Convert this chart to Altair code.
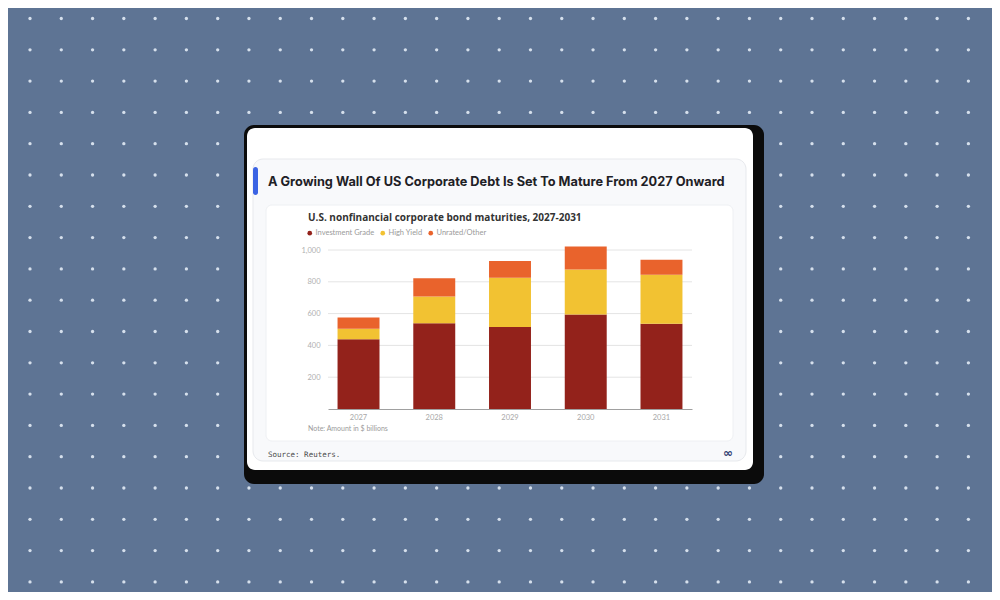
import altair as alt
import pandas as pd
import numpy as np

# ---- data ----
years = ["2027", "2028", "2029", "2030", "2031"]
investment_grade = [439, 540, 515, 595, 536]
high_yield = [65, 168, 310, 282, 308]
unrated_other = [72, 114, 106, 145, 95]
series_names = ["Investment Grade", "High Yield", "Unrated/Other"]
series_colors = ["#93221b", "#f2c232", "#e9632c"]
y_ticks = [200, 400, 600, 800, 1000]

rows = []
for i, yr in enumerate(years):
    for k, (name, vals) in enumerate(zip(series_names, [investment_grade, high_yield, unrated_other])):
        rows.append({"year": yr, "series": name, "value": vals[i], "ord": k})
df = pd.DataFrame(rows)
grid_df = pd.DataFrame({"value": y_ticks})

# ---- layout ----
W, H = 364, 159
OX, OY = 328, 250  # page position of plot origin


def rx(x):
    return x - OX


def ry(y):
    return y - OY


one = pd.DataFrame({"k": [0]})


def box(x1, y1, x2, y2, fill, radius=0, stroke=None):
    kw = dict(fill=fill, cornerRadius=radius)
    if stroke:
        kw.update(stroke=stroke, strokeWidth=1)
    return alt.Chart(one).mark_rect(**kw).encode(
        x=alt.value(rx(x1)), x2=alt.value(rx(x2)), y=alt.value(ry(y1)), y2=alt.value(ry(y2))
    )


def label(txt, x, y, size, color, font, weight="normal", align="left"):
    return alt.Chart(one).mark_text(
        text=txt, align=align, baseline="middle", fontSize=size, color=color,
        font=font, fontWeight=weight
    ).encode(x=alt.value(rx(x)), y=alt.value(ry(y)))


# background dot pattern (decoration)
gx = [30 + 31.28 * i for i in range(32)]
gy = [18.5 + 31.3 * j for j in range(19)]
dots_df = pd.DataFrame([{"px": rx(a), "py": ry(b)} for a in gx for b in gy])
dots = alt.Chart(dots_df).mark_circle(size=11, color="#d6e0ec", opacity=1).encode(
    x=alt.X("px:Q", scale=None, axis=None), y=alt.Y("py:Q", scale=None, axis=None)
)

shadow = box(244, 125, 764, 484, "#0b0b0b", radius=10)
card = box(247, 128, 753, 470, "#ffffff", radius=8)
inner = box(253, 159, 746, 461, "#f8f9fb", radius=10, stroke="#e7e9ed")
accent = box(253, 167, 258, 195, "#3c64e4", radius=3)
whitebox = box(266, 205, 733, 441, "#ffffff", radius=6, stroke="#eef0f3")

title = label("A Growing Wall Of US Corporate Debt Is Set To Mature From 2027 Onward",
              268, 182, 12.75, "#1e2126", "Inter", weight="bold")
subtitle = label("U.S. nonfinancial corporate bond maturities, 2027-2031",
                 308, 218, 10, "#333333", "Open Sans", weight="bold")
note = label("Note: Amount in $ billions", 308, 429, 7, "#9a9a9a", "Lato")
source = label("Source: Reuters.", 268, 455, 7.5, "#4a4a4a", "DejaVu Sans Mono")
icon = label("\u221e", 728, 453, 12, "#2d3b6e", "DejaVu Sans", weight="bold", align="center")

y_axis = alt.Axis(title=None, values=y_ticks, format=",d", domain=False, ticks=False,
                  grid=False, labelColor="#b0b0b0", labelFontSize=7.5, labelFont="Lato",
                  labelPadding=8, zindex=1)
y_scale = alt.Scale(domain=[0, 1000], nice=False)

grid = alt.Chart(grid_df).mark_rule(color="#e4e4e4", strokeWidth=1).encode(
    y=alt.Y("value:Q", scale=y_scale, axis=y_axis), x=alt.value(0), x2=alt.value(W)
)

bars = alt.Chart(df).mark_bar().encode(
    x=alt.X("year:N", sort=years,
            scale=alt.Scale(paddingInner=0.446, paddingOuter=0.126),
            axis=alt.Axis(title=None, labelAngle=0, ticks=False, domainColor="#a0a0a0",
                          labelColor="#a8a8a8", labelFontSize=7.5, labelFont="Lato",
                          labelPadding=4, zindex=1)),
    y=alt.Y("value:Q", stack="zero", scale=y_scale, axis=y_axis),
    color=alt.Color("series:N", sort=series_names,
                    scale=alt.Scale(domain=series_names, range=series_colors),
                    legend=alt.Legend(title=None, orient="none", legendX=-22, legendY=-21,
                                      direction="horizontal", symbolType="circle", symbolSize=22,
                                      labelFontSize=7.5, labelColor="#9a9a9a", labelFont="Lato",
                                      columnPadding=4, labelOffset=2, symbolStrokeWidth=0,
                                      padding=0, zindex=1)),
    order=alt.Order("ord:Q", sort="ascending"),
)

chart = alt.layer(
    dots, shadow, card, inner, accent, whitebox, title, subtitle, note, source, icon, grid, bars
).properties(
    width=W, height=H,
    padding={"left": 320, "top": 242, "right": 300, "bottom": 183},
    autosize=alt.AutoSizeParams(type="none"),
    background="#5e7494",
).configure_view(stroke=None)

chart.save("out.html", embed_options={"renderer": "svg", "actions": False})
